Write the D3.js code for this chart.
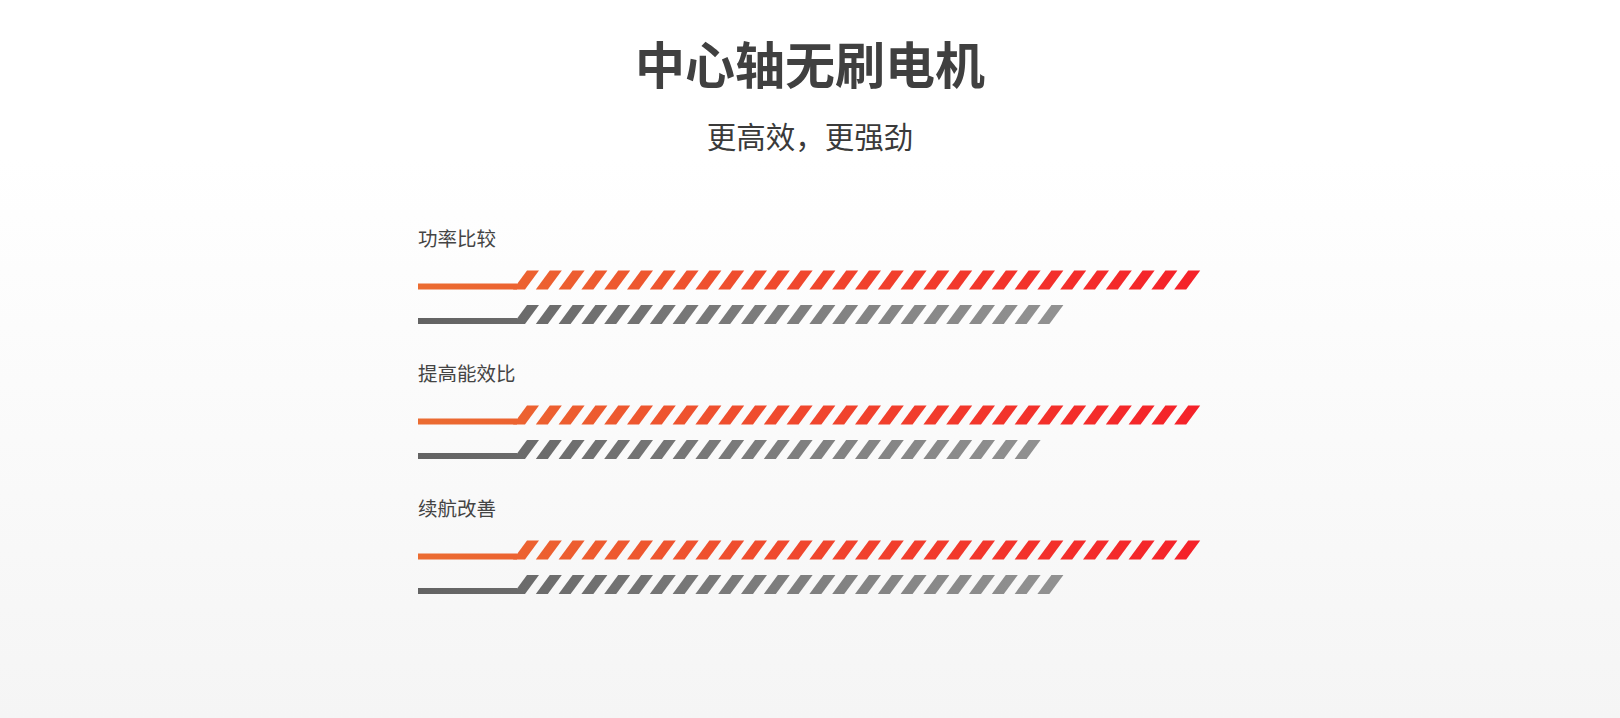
<!DOCTYPE html>
<html>
<head>
<meta charset="utf-8">
<script src="https://cdn.jsdelivr.net/npm/d3@7"></script>
<style>
	body { margin:0; background:#fff; overflow:hidden; }
	svg text { font-family:"Noto Sans CJK SC","Noto Sans",sans-serif; }
</style>
</head>
<body>
<div id="motor-chart"><svg></svg></div>
<script>
var title = "中心轴无刷电机";
var subtitle = "更高效，更强劲";
var categories = ["功率比较","提高能效比","续航改善"];
//bar length, counted in stripes
var newMotor = [30,30,30];
var oldMotor = [24,23,24];
var stripeMax = 30;

function plotStripeBars(domId)
{
	var width = 1620, height = 718;
	var svg = d3.select('#'+domId+' svg').attr('width',width).attr('height',height);
	var defs = svg.append('defs');

	//page background : white on top, light grey at bottom
	var bg = defs.append('linearGradient').attr('id','bg-grad')
		.attr('x1',0).attr('y1',0).attr('x2',0).attr('y2',1);
	bg.append('stop').attr('offset','0.22').attr('stop-color','#ffffff');
	bg.append('stop').attr('offset','1').attr('stop-color','#f5f5f5');
	svg.append('rect').attr('width',width).attr('height',height).attr('fill','url(#bg-grad)');

	//bar gradients
	function addGrad(id,c1,c2) {
		var g = defs.append('linearGradient').attr('id',id)
			.attr('gradientUnits','userSpaceOnUse')
			.attr('x1',418).attr('y1',0).attr('x2',1202).attr('y2',0);
		g.append('stop').attr('offset',0).attr('stop-color',c1);
		g.append('stop').attr('offset',1).attr('stop-color',c2);
	}
	addGrad('grad-new','#eb6c31','#f52129');
	addGrad('grad-old','#636363','#9c9c9c');

	//titles
	svg.append('text').attr('x',width/2).attr('y',62)
		.attr('text-anchor','middle').attr('dominant-baseline','central')
		.attr('font-size',50).attr('font-weight','bold').attr('fill','#404040')
		.text(title);
	svg.append('text').attr('x',width/2).attr('y',135)
		.attr('text-anchor','middle').attr('dominant-baseline','central')
		.attr('font-size',29.5).attr('fill','#3a3a3a')
		.text(subtitle);

	//scales
	var x = d3.scaleLinear().domain([0,stripeMax]).range([527,527+stripeMax*22.8]);
	var y = d3.scalePoint().domain(categories).range([239.5,509.5]);
	var lineStart = 418;
	var barH = 19, slant = 14, stripeW = 12, lineH = 6;

	var rows = svg.selectAll('g.row')
		.data(categories)
		.enter().append('g')
		.attr('class','row');

	rows.append('text')
		.attr('x',lineStart)
		.attr('y',function(d) {return y(d)-2;})
		.attr('dominant-baseline','central')
		.attr('font-size',19.5).attr('fill','#444')
		.text(function(d) {return d;});

	function drawBar(sel,counts,offset,fill) {
		sel.each(function(cat,i) {
			var top = y(cat) + offset;
			var g = d3.select(this).append('g').attr('fill',fill);
			//solid lead line
			g.append('rect')
				.attr('x',lineStart)
				.attr('y',top+barH-lineH)
				.attr('width',x(0)-slant+4-lineStart)
				.attr('height',lineH);
			//stripes
			g.selectAll('path')
				.data(d3.range(counts[i]))
				.enter().append('path')
				.attr('d',function(k) {
					var sx = x(k);
					return 'M'+(sx-slant)+','+(top+barH)+'L'+sx+','+top+'L'+(sx+stripeW)+','+top+'L'+(sx+stripeW-slant)+','+(top+barH)+'Z';
				});
		});
	}
	drawBar(rows,newMotor,31,'url(#grad-new)');
	drawBar(rows,oldMotor,65.5,'url(#grad-old)');
}

plotStripeBars('motor-chart');
</script>
</body>
</html>
